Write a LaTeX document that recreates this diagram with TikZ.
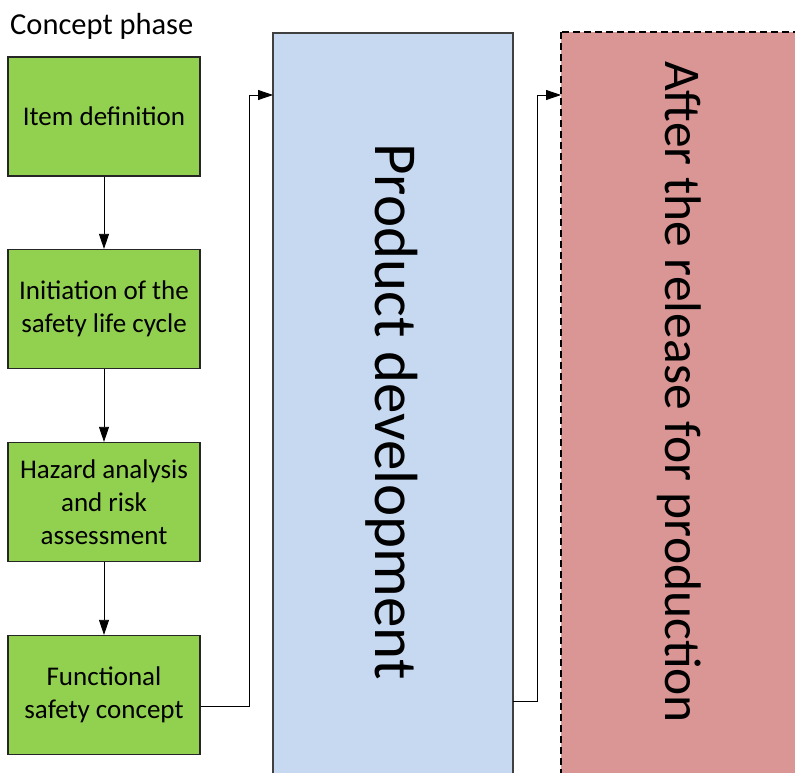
\documentclass[tikz,border=0pt]{standalone}
\usepackage{fontspec}
\setmainfont{Carlito}
\usetikzlibrary{arrows.meta}

\definecolor{stepgreen}{HTML}{92D050}
\definecolor{devblue}{HTML}{C6D9F0}
\definecolor{prodred}{HTML}{D99694}
\definecolor{edgegray}{HTML}{404040}

\tikzset{
  stepbox/.style={draw=black!85, line width=1.2pt, fill=stepgreen,
    minimum width=192pt, minimum height=119pt, inner sep=0pt,
    align=center, font=\fontsize{27}{33}\selectfont},
  flow/.style={line width=0.8pt, -{Triangle[length=15pt,width=10pt]}},
  bigtext/.style={rotate=-90, anchor=base, inner sep=0pt},
}

\begin{document}
\begin{tikzpicture}
  \clip (0,0) rectangle (795pt,-773pt);
  \fill[white] (0,0) rectangle (795pt,-773pt);

  \begin{scope}[x=1pt,y=1pt]
    % heading
    \node[anchor=base west, inner sep=0pt, font=\fontsize{30.5}{34}\selectfont]
      (title) at (10,-35) {Concept phase};

    % concept phase steps
    \node[stepbox] (b1) at (104,-116.5) {Item definition};
    \node[stepbox] (b2) at (104,-309) {Initiation of the\\safety life cycle};
    \node[stepbox] (b3) at (104,-502) {Hazard analysis\\and risk\\assessment};
    \node[stepbox] (b4) at (104,-695) {Functional\\safety concept};

    % product development phase
    \path[draw=edgegray, line width=1.2pt, fill=devblue]
      (273,-33) rectangle (513,-800);
    \coordinate (devin) at (273,-95);
    \coordinate (devout) at (513,-701);
    \node[bigtext, font=\fontsize{61}{67}\selectfont] (dev) at (375,-411.5)
      {Product development};

    % after release for production
    \path[draw=black, line width=2pt, dash pattern=on 7pt off 4pt, fill=prodred]
      (561,-32) rectangle (820,-800);
    \coordinate (relin) at (561,-95);
    \node[bigtext, font=\fontsize{51.5}{60}\selectfont] (rel) at (665,-392)
      {After the release for production};

    % connectors
    \draw[flow] (b1) -- (b2);
    \draw[flow] (b2) -- (b3);
    \draw[flow] (b3) -- (b4);
    \draw[flow] ([yshift=-11pt]b4.east) -| (249,-95) -- (devin);
    \draw[flow] (devout) -| (537,-95) -- (relin);
  \end{scope}
\end{tikzpicture}
\end{document}
